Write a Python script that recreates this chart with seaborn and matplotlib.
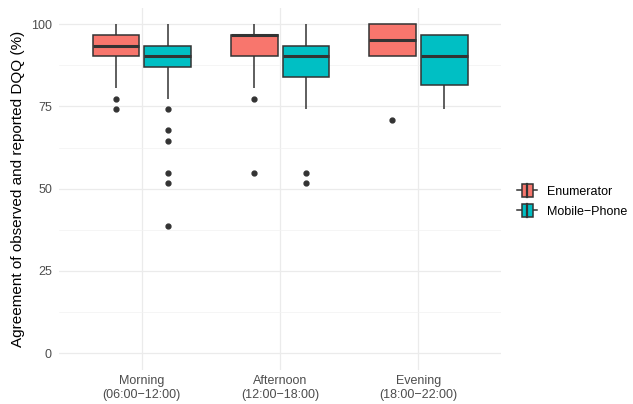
import matplotlib.pyplot as plt
import seaborn as sns
import pandas as pd
from matplotlib.legend_handler import HandlerBase
from matplotlib.patches import Rectangle, Patch
from matplotlib.lines import Line2D

periods = ["Morning\n(06:00\u221212:00)", "Afternoon\n(12:00\u221218:00)", "Evening\n(18:00\u221222:00)"]
sources = ["Enumerator", "Mobile\u2212Phone"]
colors = ["#F8766D", "#00BFC4"]

# agreement scores (%) per period and data source
morning_enum = [74.2, 77.4, 80.6, 87.1, 90.3, 90.3, 90.3, 93.5, 93.5, 93.5, 93.5, 93.5,
                96.8, 96.8, 96.8, 96.8, 100, 100, 100, 100, 100]
morning_mobile = [38.7, 51.6, 54.8, 64.5, 67.7, 74.2, 77.4, 87.0,
                  90.3, 90.3, 90.3, 90.3, 90.3, 90.3, 90.3,
                  93.5, 93.5, 93.5, 93.5, 93.5, 93.5, 93.5,
                  96.8, 96.8, 96.8, 100, 100, 100, 100]
afternoon_enum = [54.8, 77.4, 80.6, 90.3, 90.3, 90.3, 93.5, 93.5, 93.5, 93.5,
                  96.8, 96.8, 96.8, 96.8, 96.8, 96.8, 100, 100, 100, 100, 100]
afternoon_mobile = [51.6, 54.8, 74.2, 80.6, 83.9, 83.9, 87.1, 87.1, 90.3, 90.3, 90.3,
                    93.5, 93.5, 93.5, 93.5, 93.5, 96.8, 96.8, 100, 100, 100]
evening_enum = [71.0, 90.3, 90.3, 90.3, 90.3, 90.3, 93.5, 93.5, 93.5, 93.5,
                96.8, 96.8, 96.8, 96.8, 100, 100, 100, 100, 100, 100]
evening_mobile = [74.2, 77.4, 80.6, 83.9, 90.3, 90.3, 96.8, 96.8, 96.8, 96.8]

groups = [
    (periods[0], sources[0], morning_enum),
    (periods[0], sources[1], morning_mobile),
    (periods[1], sources[0], afternoon_enum),
    (periods[1], sources[1], afternoon_mobile),
    (periods[2], sources[0], evening_enum),
    (periods[2], sources[1], evening_mobile),
]
rows = []
for period, source, vals in groups:
    for v in vals:
        rows.append({"period": period, "source": source, "agreement": v})
df = pd.DataFrame(rows)

plt.rcParams["font.family"] = ["Liberation Sans", "DejaVu Sans"]

fig, ax = plt.subplots(figsize=(6.33, 4.04), dpi=100)
fig.subplots_adjust(left=0.093, right=0.792, top=0.981, bottom=0.085)

sns.boxplot(data=df, x="period", y="agreement", hue="source", order=periods,
            hue_order=sources, palette=colors, saturation=1, width=0.75, gap=0.1,
            linewidth=1.1, linecolor="#333333", showcaps=False,
            flierprops=dict(marker="o", markerfacecolor="#333333",
                            markeredgecolor="#333333", markersize=3.5),
            medianprops=dict(color="#333333", linewidth=2.2),
            legend=False, ax=ax, zorder=3)

ax.set_xlim(-0.6, 2.6)
ax.set_ylim(-5, 105)
ax.set_yticks([0, 25, 50, 75, 100])
ax.set_yticks([12.5, 37.5, 62.5, 87.5], minor=True)
ax.set_axisbelow(True)
ax.grid(True, which="major", color="#EBEBEB", linewidth=0.9)
ax.grid(True, which="minor", axis="y", color="#F2F2F2", linewidth=0.5)
for s in ax.spines.values():
    s.set_visible(False)
ax.tick_params(which="both", length=0, labelsize=9, labelcolor="#4D4D4D")
ax.tick_params(axis="y", pad=5)
ax.tick_params(axis="x", pad=4)
ax.set_xlabel("")
ax.set_ylabel("Agreement of observed and reported DQQ (%)", fontsize=11, color="black")
ax.set_facecolor("white")


class BoxKey(HandlerBase):
    def create_artists(self, legend, orig_handle, xdescent, ydescent, width, height, fontsize, trans):
        x0, y0 = -xdescent, -ydescent
        bw = width * 0.55
        bx = x0 + (width - bw) / 2
        kw = dict(color="#333333", lw=1.1, transform=trans)
        left = Line2D([x0, bx], [y0 + height / 2] * 2, **kw)
        right = Line2D([bx + bw, x0 + width], [y0 + height / 2] * 2, **kw)
        rect = Rectangle((bx, y0), bw, height, facecolor=orig_handle.get_facecolor(),
                         edgecolor="#333333", lw=1.1, transform=trans)
        med = Line2D([x0 + width / 2] * 2, [y0, y0 + height], color="#333333", lw=1.6, transform=trans)
        return [left, right, rect, med]


handles = [Patch(facecolor=c) for c in colors]
fig.legend(handles, sources, loc="center left", bbox_to_anchor=(0.817, 0.503),
           frameon=False, fontsize=9, handler_map={Patch: BoxKey()},
           handlelength=1.6, handleheight=1.2, handletextpad=0.8,
           labelspacing=0.5, borderpad=0, borderaxespad=0)

fig.savefig("out.png", dpi=100, facecolor="white")
